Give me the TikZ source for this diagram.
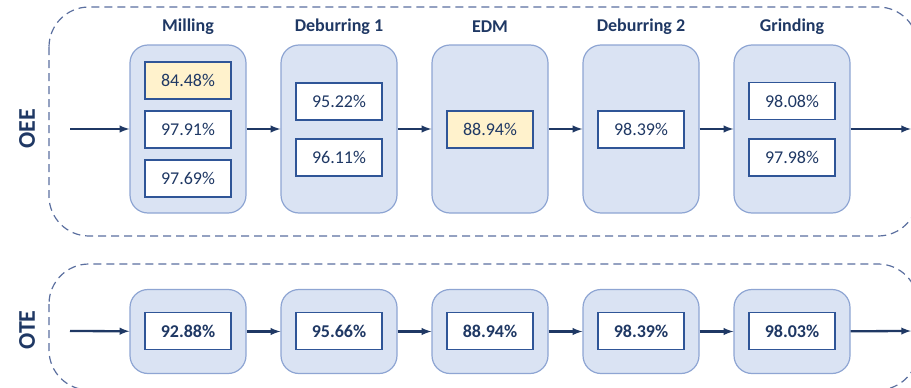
\documentclass[tikz,border=0pt]{standalone}
\usepackage{fontspec}
\setmainfont{Carlito}
\usepackage{tikz}
\usetikzlibrary{shapes,arrows}
\usetikzlibrary{positioning}

\definecolor{navy}{HTML}{1F3864}
\definecolor{stagefill}{HTML}{DAE3F3}
\definecolor{stageline}{HTML}{8EA5D3}
\definecolor{boxline}{HTML}{2F5597}
\definecolor{hotfill}{HTML}{FFF2CC}
\definecolor{dashline}{HTML}{5B6F9F}

\begin{document}
\begin{tikzpicture}[>=latex, auto, x=1pt, y=-1pt, font=\fontsize{18}{21}\selectfont]

    \tikzstyle{group}=[draw=dashline, dash pattern=on 8pt off 5pt, line width=1.2pt, rounded corners=40pt];
    \tikzstyle{stage}=[draw=stageline, fill=stagefill, line width=1.2pt, rounded corners=18pt, minimum width=116pt, inner sep=0pt];
    \tikzstyle{value}=[draw=boxline, fill=white, line width=1.1pt, minimum width=86pt, minimum height=37pt, inner sep=0pt, text=navy];
    \tikzstyle{hot}=[value, fill=hotfill];
    \tikzstyle{title}=[font=\fontsize{18}{21}\selectfont\bfseries, text=navy];
    \tikzstyle{kpi}=[font=\fontsize{24}{28}\selectfont\bfseries, text=navy, rotate=90];
    \tikzstyle{flow}=[->, draw=navy, line width=2.3pt];

    \useasboundingbox (0,0) rectangle (911,388);

    % dashed frames
    \draw [group] (49,7) rectangle (918,236);
    \draw [group] (49,264) rectangle (918,390);

    \node [kpi](oee) at (27,129){OEE};
    \node [kpi](ote) at (27,330){OTE};

    % titles
    \node [title](t-mill) at (188,27){Milling};
    \node [title](t-deb1) at (339,27){Deburring 1};
    \node [title](t-edm) at (490,27){EDM};
    \node [title](t-deb2) at (641,27){Deburring 2};
    \node [title](t-grind) at (792,27){Grinding};

    % OEE row
    \node [stage, minimum height=168pt](mill) at (188,129){};
    \node [stage, minimum height=168pt](deb1) at (339,129){};
    \node [stage, minimum height=168pt](edm) at (490,129){};
    \node [stage, minimum height=168pt](deb2) at (641,129){};
    \node [stage, minimum height=168pt](grind) at (792,129){};

    \node [hot](mill-a) at (188,80.5){84.48\%};
    \node [value](mill-b) at (188,129.5){97.91\%};
    \node [value](mill-c) at (188,178.5){97.69\%};
    \node [value](deb1-a) at (339,101.5){95.22\%};
    \node [value](deb1-b) at (339,157.5){96.11\%};
    \node [hot](edm-a) at (490,129.5){88.94\%};
    \node [value](deb2-a) at (641,129.5){98.39\%};
    \node [value](grind-a) at (792,101){98.08\%};
    \node [value](grind-b) at (792,157.5){97.98\%};

    \coordinate (oee-in) at (70,129);
    \coordinate (oee-out) at (911,129);

    \draw [flow] (oee-in) to (mill);
    \draw [flow] (mill) to (deb1);
    \draw [flow] (deb1) to (edm);
    \draw [flow] (edm) to (deb2);
    \draw [flow] (deb2) to (grind);
    \draw [flow] (grind) to (oee-out);

    % OTE row
    \node [stage, minimum height=84pt](mill2) at (188,331.5){};
    \node [stage, minimum height=84pt](deb12) at (339,331.5){};
    \node [stage, minimum height=84pt](edm2) at (490,331.5){};
    \node [stage, minimum height=84pt](deb22) at (641,331.5){};
    \node [stage, minimum height=84pt](grind2) at (792,331.5){};

    \node [value, font=\fontsize{18}{21}\selectfont\bfseries](mill2-a) at (188,331){92.88\%};
    \node [value, font=\fontsize{18}{21}\selectfont\bfseries](deb12-a) at (339,331){95.66\%};
    \node [value, font=\fontsize{18}{21}\selectfont\bfseries](edm2-a) at (490,331){88.94\%};
    \node [value, font=\fontsize{18}{21}\selectfont\bfseries](deb22-a) at (641,331){98.39\%};
    \node [value, font=\fontsize{18}{21}\selectfont\bfseries](grind2-a) at (792,331){98.03\%};

    \coordinate (ote-in) at (70,331);
    \coordinate (ote-out) at (911,331);

    \draw [flow] (ote-in) to (mill2);
    \draw [flow] (mill2) to (deb12);
    \draw [flow] (deb12) to (edm2);
    \draw [flow] (edm2) to (deb22);
    \draw [flow] (deb22) to (grind2);
    \draw [flow] (grind2) to (ote-out);

\end{tikzpicture}
\end{document}
